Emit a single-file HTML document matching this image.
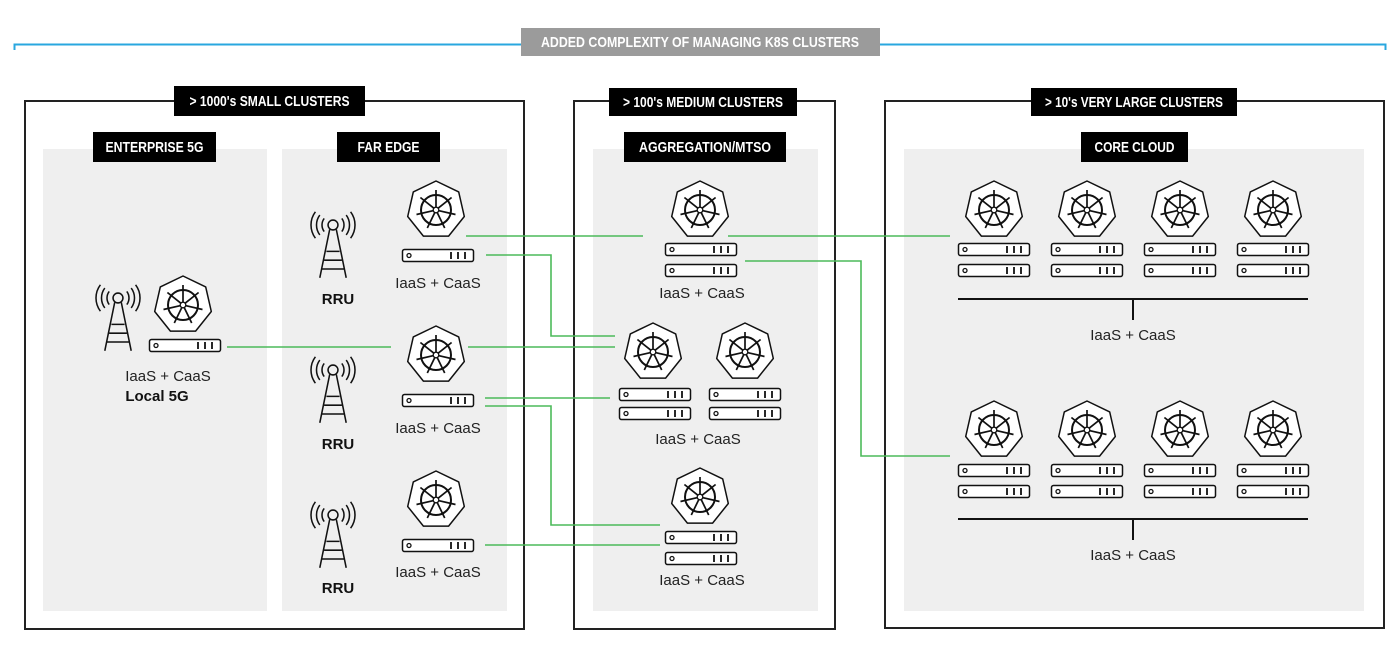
<!DOCTYPE html>
<html><head><meta charset="utf-8"><style>
html,body{margin:0;padding:0;background:#fff;}
svg{display:block;}
.lab{font-family:"Liberation Sans Narrow","Liberation Sans",sans-serif;font-weight:bold;fill:#fff;font-size:15px;}
.t{font-family:"Liberation Sans",sans-serif;font-size:15px;fill:#222;text-anchor:middle;}
.b{font-family:"Liberation Sans",sans-serif;font-size:15px;font-weight:bold;fill:#111;text-anchor:middle;}
.g{stroke:#4cba5a;stroke-width:1.6;fill:none;}
</style></head><body>
<svg width="1400" height="660" viewBox="0 0 1400 660" xmlns="http://www.w3.org/2000/svg">
<defs>
<g id="k">
<polygon points="0,-29 22.7,-18.1 28.3,6.5 12.6,26.1 -12.6,26.1 -28.3,6.5 -22.7,-18.1" fill="#fff" stroke="#111" stroke-width="1.5" stroke-linejoin="round"/>
<circle cx="0" cy="0" r="15" fill="none" stroke="#111" stroke-width="2"/>
<circle cx="0" cy="0" r="2.8" fill="#fff" stroke="#111" stroke-width="1.3"/>
<g stroke="#111" stroke-width="1.7">
<line x1="0" y1="-3" x2="0" y2="-20"/>
<line x1="2.3" y1="-1.9" x2="15.6" y2="-12.5"/>
<line x1="2.9" y1="0.7" x2="19.5" y2="4.5"/>
<line x1="1.3" y1="2.7" x2="8.7" y2="18"/>
<line x1="-1.3" y1="2.7" x2="-8.7" y2="18"/>
<line x1="-2.9" y1="0.7" x2="-19.5" y2="4.5"/>
<line x1="-2.3" y1="-1.9" x2="-15.6" y2="-12.5"/>
</g>
</g>
<g id="s">
<rect x="0.5" y="0.5" width="71" height="12" rx="2" fill="#fff" stroke="#111" stroke-width="1.5"/>
<circle cx="7" cy="6.5" r="2" fill="none" stroke="#111" stroke-width="1.3"/>
<g stroke="#111" stroke-width="1.8"><line x1="49" y1="3" x2="49" y2="10"/><line x1="56" y1="3" x2="56" y2="10"/><line x1="63" y1="3" x2="63" y2="10"/></g>
</g>
<g id="a0" fill="none" stroke="#111" stroke-width="1.4">
<circle cx="0" cy="0" r="4.5"/>
<path d="M-3,4 L-12,48 M3,4 L12,48 M-6,24 H6 M-8,32 H8 M-10,40 H10"/>
<path d="M-8,-6 A10,10 0 0 0 -8,6 M8,-6 A10,10 0 0 1 8,6"/>
<path d="M-12,-9 A15,15 0 0 0 -12,9 M12,-9 A15,15 0 0 1 12,9"/>
<path d="M-16,-12 A20,20 0 0 0 -16,12 M16,-12 A20,20 0 0 1 16,12"/>
</g>
<g id="a"><use href="#a0" transform="scale(1.1)"/></g>
</defs>

<path d="M14.5,50 V44.5 H1385.5 V50" fill="none" stroke="#29a7df" stroke-width="2"/>
<rect x="521" y="28" width="359" height="28" fill="#9b9b9b"/>
<text class="lab" x="700" y="47" text-anchor="middle" textLength="318" lengthAdjust="spacingAndGlyphs">ADDED COMPLEXITY OF MANAGING K8S CLUSTERS</text>

<rect x="25" y="101" width="499" height="528" fill="#fff" stroke="#222" stroke-width="2"/>
<rect x="574" y="101" width="261" height="528" fill="#fff" stroke="#222" stroke-width="2"/>
<rect x="885" y="101" width="499" height="527" fill="#fff" stroke="#222" stroke-width="2"/>
<rect x="43" y="149" width="224" height="462" fill="#efefef"/>
<rect x="282" y="149" width="225" height="462" fill="#efefef"/>
<rect x="593" y="149" width="225" height="462" fill="#efefef"/>
<rect x="904" y="149" width="460" height="462" fill="#efefef"/>

<rect x="174" y="86" width="191" height="30" fill="#000"/>
<text class="lab" x="269.5" y="106" text-anchor="middle" textLength="160" lengthAdjust="spacingAndGlyphs">&gt; 1000's SMALL CLUSTERS</text>
<rect x="609" y="88" width="188" height="28" fill="#000"/>
<text class="lab" x="703" y="107" text-anchor="middle" textLength="160" lengthAdjust="spacingAndGlyphs">&gt; 100's MEDIUM CLUSTERS</text>
<rect x="1031" y="88" width="206" height="28" fill="#000"/>
<text class="lab" x="1134" y="107" text-anchor="middle" textLength="178" lengthAdjust="spacingAndGlyphs">&gt; 10's VERY LARGE CLUSTERS</text>
<rect x="93" y="132" width="123" height="30" fill="#000"/>
<text class="lab" x="154.5" y="152" text-anchor="middle" textLength="98" lengthAdjust="spacingAndGlyphs">ENTERPRISE 5G</text>
<rect x="337" y="132" width="103" height="30" fill="#000"/>
<text class="lab" x="388.5" y="152" text-anchor="middle" textLength="62" lengthAdjust="spacingAndGlyphs">FAR EDGE</text>
<rect x="624" y="132" width="162" height="30" fill="#000"/>
<text class="lab" x="705" y="152" text-anchor="middle" textLength="132" lengthAdjust="spacingAndGlyphs">AGGREGATION/MTSO</text>
<rect x="1081" y="132" width="107" height="30" fill="#000"/>
<text class="lab" x="1134.5" y="152" text-anchor="middle" textLength="80" lengthAdjust="spacingAndGlyphs">CORE CLOUD</text>

<path class="g" d="M466,236 H643 M728,236 H950"/>
<path class="g" d="M486,255 H551 V336 H615"/>
<path class="g" d="M227,347 H391 M468,347 H615"/>
<path class="g" d="M485,398 H610"/>
<path class="g" d="M485,406 H551 V525 H660"/>
<path class="g" d="M485,545 H660"/>
<path class="g" d="M745,261 H861 V456 H950"/>

<use href="#a" x="118" y="298"/>
<use href="#k" x="183" y="305"/>
<use href="#s" x="149" y="339"/>
<text class="t" x="168" y="381">IaaS + CaaS</text>
<text class="b" x="157" y="401">Local 5G</text>

<use href="#a" x="333" y="225"/><text class="b" x="338" y="304">RRU</text>
<use href="#a" x="333" y="370"/><text class="b" x="338" y="449">RRU</text>
<use href="#a" x="333" y="515"/><text class="b" x="338" y="593">RRU</text>
<use href="#k" x="436" y="210"/><use href="#s" x="402" y="249"/><text class="t" x="438" y="288">IaaS + CaaS</text>
<use href="#k" x="436" y="355"/><use href="#s" x="402" y="394"/><text class="t" x="438" y="433">IaaS + CaaS</text>
<use href="#k" x="436" y="500"/><use href="#s" x="402" y="539"/><text class="t" x="438" y="577">IaaS + CaaS</text>

<use href="#k" x="700" y="210"/><use href="#s" x="665" y="243"/><use href="#s" x="665" y="264"/><text class="t" x="702" y="298">IaaS + CaaS</text>
<use href="#k" x="653" y="352"/><use href="#s" x="619" y="388"/><use href="#s" x="619" y="407"/>
<use href="#k" x="745" y="352"/><use href="#s" x="709" y="388"/><use href="#s" x="709" y="407"/>
<text class="t" x="698" y="444">IaaS + CaaS</text>
<use href="#k" x="700" y="497"/><use href="#s" x="665" y="531"/><use href="#s" x="665" y="552"/><text class="t" x="702" y="585">IaaS + CaaS</text>

<g>
<use href="#k" x="994" y="210"/><use href="#s" x="958" y="243"/><use href="#s" x="958" y="264"/>
<use href="#k" x="1087" y="210"/><use href="#s" x="1051" y="243"/><use href="#s" x="1051" y="264"/>
<use href="#k" x="1180" y="210"/><use href="#s" x="1144" y="243"/><use href="#s" x="1144" y="264"/>
<use href="#k" x="1273" y="210"/><use href="#s" x="1237" y="243"/><use href="#s" x="1237" y="264"/>
<path d="M958,299 H1308 M1133,299 V320" stroke="#111" stroke-width="2" fill="none"/>
<text class="t" x="1133" y="340">IaaS + CaaS</text>
<use href="#k" x="994" y="430"/><use href="#s" x="958" y="464"/><use href="#s" x="958" y="485"/>
<use href="#k" x="1087" y="430"/><use href="#s" x="1051" y="464"/><use href="#s" x="1051" y="485"/>
<use href="#k" x="1180" y="430"/><use href="#s" x="1144" y="464"/><use href="#s" x="1144" y="485"/>
<use href="#k" x="1273" y="430"/><use href="#s" x="1237" y="464"/><use href="#s" x="1237" y="485"/>
<path d="M958,519 H1308 M1133,519 V540" stroke="#111" stroke-width="2" fill="none"/>
<text class="t" x="1133" y="560">IaaS + CaaS</text>
</g>
</svg>
</body></html>
